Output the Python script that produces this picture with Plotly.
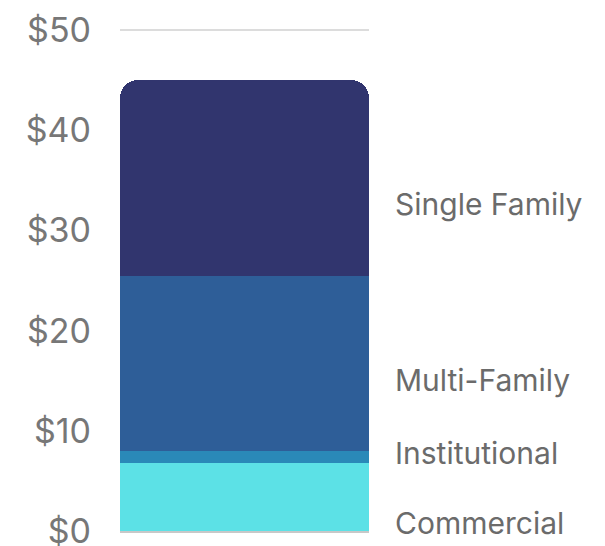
import plotly.graph_objects as go

categories = ["Commercial", "Institutional", "Multi-Family", "Single Family"]
values = [6.8, 1.2, 17.4, 19.6]
colors = ["#5CE1E6", "#2A89B8", "#2E5E98", "#31356E"]
label_y = [0.8, 7.8, 15.1, 32.6]
tick_vals = [0, 10, 20, 30, 40, 50]
tick_text = ["$0", "$10", "$20", "$30", "$40", "$50"]

fig = go.Figure()
for cat, val, col in zip(categories, values, colors):
    fig.add_trace(go.Bar(x=["Total"], y=[val], name=cat, marker=dict(color=col, line=dict(width=0)),
                         hoverinfo="name+y"))

for cat, ly in zip(categories, label_y):
    fig.add_annotation(x=1, xref="paper", y=ly, yref="y", text=cat, showarrow=False,
                       xanchor="left", yanchor="middle", xshift=24,
                       font=dict(family="Inter", size=30, color="#6b6b6b"))

# page body has an 8px default margin, so the figure is sized to fit the window
fig.update_layout(
    barmode="stack", bargap=0, barcornerradius=18,
    width=597, height=538,
    margin=dict(l=112, r=236, t=19, b=13, autoexpand=False),
    paper_bgcolor="white", plot_bgcolor="white",
    showlegend=False,
    font=dict(family="Inter", color="#6b6b6b"),
)
fig.update_yaxes(range=[-0.2, 50.3], tickvals=tick_vals, ticktext=tick_text,
                 showgrid=True, gridcolor="#dcdcdc", gridwidth=2,
                 zeroline=True, zerolinecolor="#c8c8c8", zerolinewidth=3,
                 automargin=False, ticklabeloverflow="allow",
                 tickfont=dict(family="Inter", size=34, color="#777777"), ticklabelstandoff=28)
fig.update_xaxes(showticklabels=False, showgrid=False, showline=False,
                 zeroline=False, automargin=False)

fig.write_html("out.html")
